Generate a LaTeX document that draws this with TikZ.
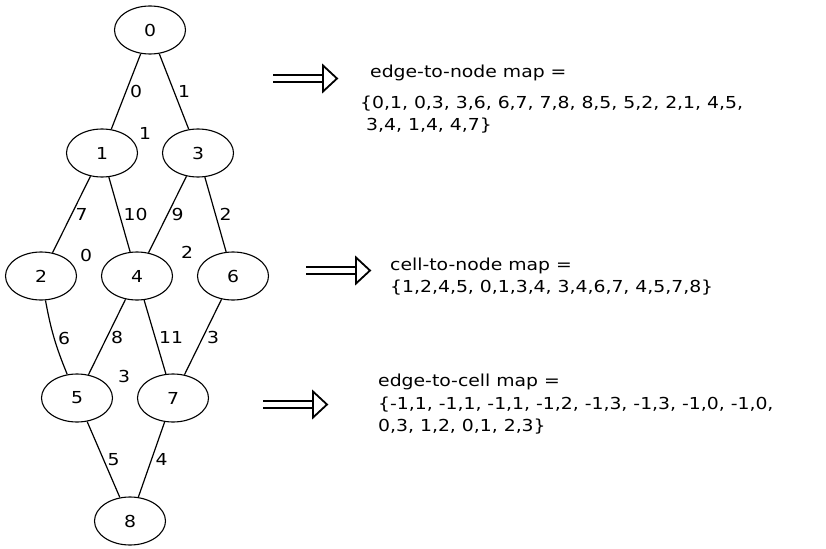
\documentclass[tikz,border=0pt]{standalone}
\usepackage{fontspec}
\setmainfont{DejaVu Sans}[FakeStretch=1.14]
\usetikzlibrary{shapes.geometric}

\tikzset{
  vertex/.style={ellipse, draw, line width=1.1pt, minimum width=71pt, minimum height=48pt, inner sep=0pt},
  link/.style={line width=1.2pt},
  elabel/.style={midway, right, inner sep=3.5pt},
  maptext/.style={align=left, anchor=base west, inner sep=0pt},
  pics/implies/.style={code={
    \draw[line width=1.8pt] (0,3.7) -- (50,3.7) (0,-3.7) -- (50,-3.7);
    \draw[line width=1.8pt, line join=miter] (50,13) -- (64,0) -- (50,-13) -- cycle;
  }}
}

\begin{document}
\begin{tikzpicture}[x=1pt, y=1pt, font=\fontsize{16.5}{22.5}\selectfont]
  \useasboundingbox (0,0) rectangle (826,-548);

  % Mesh nodes
  \node[vertex] (v0) at (150,-30) {0};
  \node[vertex] (v1) at (102,-153) {1};
  \node[vertex] (v3) at (198,-153) {3};
  \node[vertex] (v2) at (41,-276) {2};
  \node[vertex] (v4) at (137,-276) {4};
  \node[vertex] (v6) at (233,-276) {6};
  \node[vertex] (v5) at (77,-398) {5};
  \node[vertex] (v7) at (173,-398) {7};
  \node[vertex] (v8) at (130,-521) {8};

  % Edges with their numbers
  \draw[link] (v0) -- node[elabel] {0} (v1);
  \draw[link] (v0) -- node[elabel] {1} (v3);
  \draw[link] (v1) -- node[elabel] {7} (v2);
  \draw[link] (v1) -- node[elabel] {10} (v4);
  \draw[link] (v3) -- node[elabel] {9} (v4);
  \draw[link] (v3) -- node[elabel] {2} (v6);
  \draw[link] (v2) to[bend right=6] node[elabel] {6} (v5);
  \draw[link] (v4) -- node[elabel] {8} (v5);
  \draw[link] (v4) -- node[elabel] {11} (v7);
  \draw[link] (v6) -- node[elabel] {3} (v7);
  \draw[link] (v5) -- node[elabel] {5} (v8);
  \draw[link] (v7) -- node[elabel] {4} (v8);

  % Cell numbers
  \node (c1) at (145,-133) {1};
  \node (c0) at (86,-255) {0};
  \node (c2) at (187,-252) {2};
  \node (c3) at (124,-376) {3};

  % Arrows towards the maps
  \pic (a1) at (273,-78.5) {implies};
  \pic (a2) at (306,-270.5) {implies};
  \pic (a3) at (263,-404.5) {implies};

  % Maps (placed at the baseline of their last line)
  \node[maptext] (m1) at (360,-131) {\hspace{10pt}edge-to-node map =\\[8pt]
    \{0,1, 0,3, 3,6, 6,7, 7,8, 8,5, 5,2, 2,1, 4,5,\\
    \hspace{6pt}3,4, 1,4, 4,7\}};
  \node[maptext] (m2) at (390,-292.5) {cell-to-node map =\\
    \{1,2,4,5, 0,1,3,4, 3,4,6,7, 4,5,7,8\}};
  \node[maptext] (m3) at (378,-431.5) {edge-to-cell map =\\
    \{-1,1, -1,1, -1,1, -1,2, -1,3, -1,3, -1,0, -1,0,\\
    0,3, 1,2, 0,1, 2,3\}};

\end{tikzpicture}
\end{document}
